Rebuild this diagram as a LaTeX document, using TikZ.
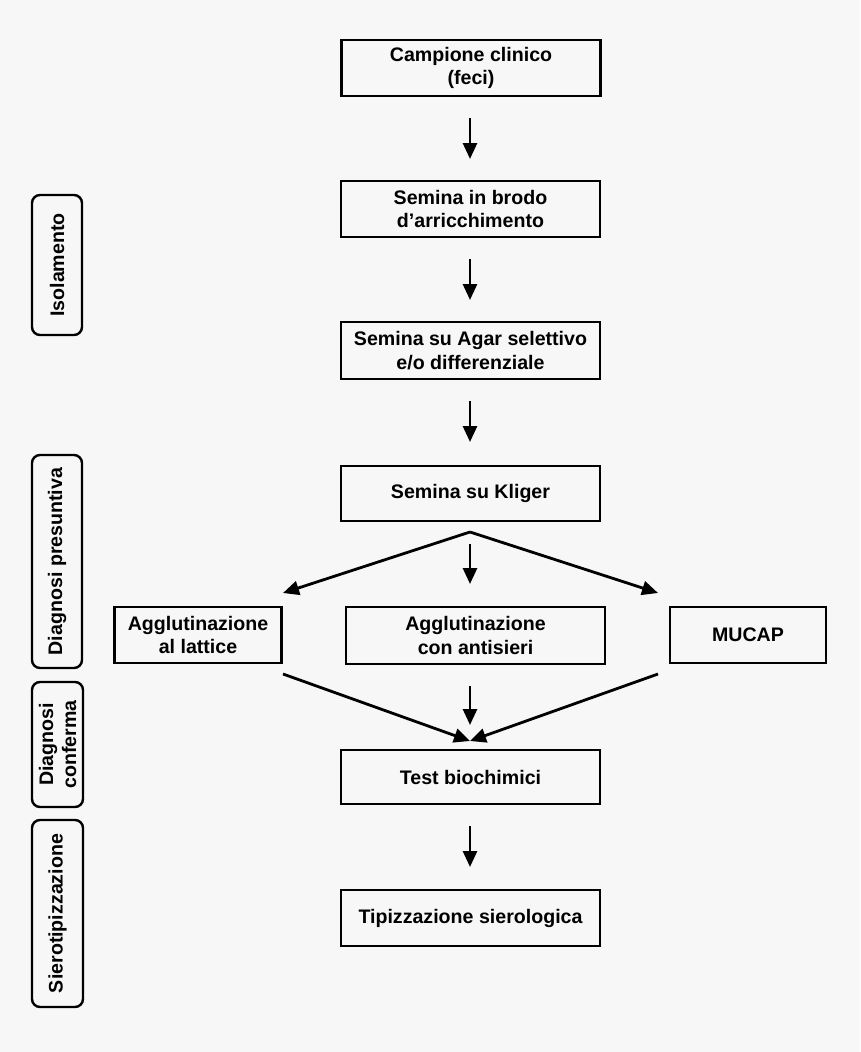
\documentclass[tikz,border=0pt]{standalone}
\usepackage{fontspec}
\setmainfont{Liberation Sans}
\usetikzlibrary{arrows.meta}
\definecolor{bg}{HTML}{F7F7F7}
\begin{document}
\begin{tikzpicture}[x=1pt,y=-1pt,
  font=\bfseries\fontsize{19.6}{23.5}\selectfont,
  box/.style={draw, line width=2.4pt, minimum height=56pt, align=center, inner sep=0pt},
  mainbox/.style={box, minimum width=259pt},
  side/.style={draw, line width=2.4pt, rounded corners=8pt, minimum width=50pt, align=center, inner sep=0pt, rotate=90},
  arr/.style={line width=2.8pt, -{Triangle[length=16pt,width=14pt]}},
  ln/.style={line width=2.8pt}]
\fill[bg] (0,0) rectangle (860,1052);
\useasboundingbox (0,0) rectangle (860,1052);
% main boxes
\node[mainbox] (b1) at (471,68) {Campione clinico\\(feci)};
\node[mainbox] (b2) at (470.5,209) {Semina in brodo\\d’arricchimento};
\node[mainbox, minimum height=57pt] (b3) at (470.5,350.5) {Semina su Agar selettivo\\e/o differenziale};
\node[mainbox, minimum height=55pt] (b4) at (470.5,493.5) {Semina su Kliger};
\node[box, minimum width=167pt] (b5) at (198,635) {Agglutinazione\\al lattice};
\node[box, minimum width=259pt, minimum height=57pt] (b6) at (475.5,635.5) {Agglutinazione\\con antisieri};
\node[box, minimum width=156pt] (b7) at (748,635) {MUCAP};
\node[mainbox, minimum height=54pt] (b8) at (470.5,777) {Test biochimici};
\node[mainbox] (b9) at (470.5,918) {Tipizzazione sierologica};
% side labels
\node[side, minimum height=50pt, minimum width=140pt] (s1) at (57,265) {Isolamento};
\node[side, minimum height=50pt, minimum width=213pt] (s2) at (57,561.5) {Diagnosi presuntiva};
\node[side, minimum height=51pt, minimum width=125pt, font=\bfseries\fontsize{19.6}{23}\selectfont] (s3) at (57.5,744.5) {Diagnosi\\conferma};
\node[side, minimum height=51pt, minimum width=187pt] (s4) at (57.5,913.5) {Sierotipizzazione};
% coordinates for arrows
\coordinate (a1s) at (470,118); \coordinate (a1e) at (470,159);
\coordinate (a2s) at (470,259); \coordinate (a2e) at (470,300);
\coordinate (a3s) at (470,401); \coordinate (a3e) at (470,442);
\coordinate (a4s) at (470,826); \coordinate (a4e) at (470,867);
\coordinate (apex) at (470,532);
\coordinate (lt) at (283,593);
\coordinate (rt) at (658,593);
\coordinate (m1s) at (470,544); \coordinate (m1e) at (470,584);
\coordinate (lb) at (283,674);
\coordinate (rb) at (658,674);
\coordinate (join) at (470,741);
\coordinate (m2s) at (470,686); \coordinate (m2e) at (470,725);
\draw[arr] (a1s) -- (a1e);
\draw[arr] (a2s) -- (a2e);
\draw[arr] (a3s) -- (a3e);
\draw[arr] (a4s) -- (a4e);
\draw[arr] (apex) -- (lt);
\draw[arr] (apex) -- (rt);
\draw[arr] (m1s) -- (m1e);
\draw[arr] (lb) -- (join);
\draw[arr] (rb) -- (join);
\draw[arr] (m2s) -- (m2e);
\end{tikzpicture}
\end{document}
